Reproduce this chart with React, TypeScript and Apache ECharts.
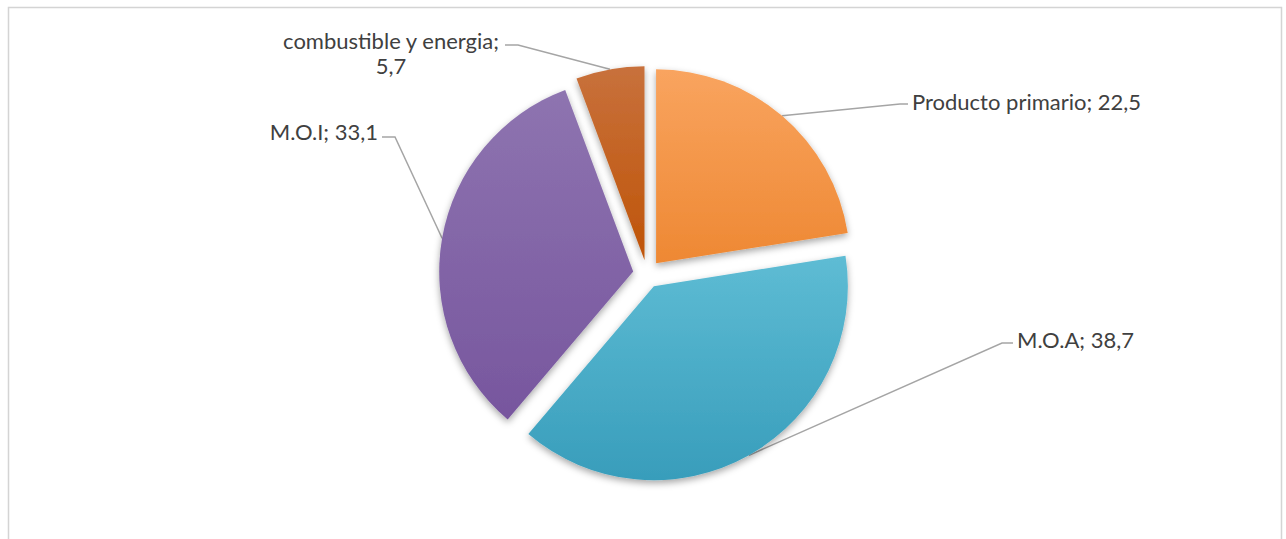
import React, { useEffect, useRef } from "react";
import * as echarts from "echarts";

const categories = ["Producto primario", "M.O.A", "M.O.I", "combustible y energia"];
const values = [22.5, 38.7, 33.1, 5.7];
const topColors = ["#f9a45f", "#5ebcd4", "#8e74b0", "#c8713c"];
const bottomColors = ["#ee8833", "#389dbb", "#77569e", "#bf5408"];

const fmt = (v: number) => String(v).replace(".", ",");

export default function App() {
  const ref = useRef<HTMLDivElement>(null);
  useEffect(() => {
    if (!ref.current) return;
    const chart = echarts.init(ref.current, undefined, { renderer: "svg" });
    const cx = 647;
    const cy = 274;
    const radius = 194;
    const explode = 14;
    const total = values.reduce((a, b) => a + b, 0);
    let acc = 0;
    const mids = values.map((v) => {
      const m = ((acc + v / 2) / total) * Math.PI * 2;
      acc += v;
      return m;
    });

    const labelPlace = [
      { x: 912, y: 101, align: "left", bend: [[900, 104], [908, 104]] },
      { x: 1017, y: 339, align: "left", bend: [[1002, 343], [1013, 343]] },
      { x: 378, y: 131, align: "right", bend: [[395, 137], [382, 137]] },
      { x: 391, y: 53, align: "center", bend: [[518, 45], [505, 45]] },
    ];

    const series = values.map((_, i) => ({
      type: "pie",
      radius: radius,
      center: [cx + explode * Math.sin(mids[i]), cy - explode * Math.cos(mids[i])],
      startAngle: 90,
      clockwise: true,
      silent: true,
      avoidLabelOverlap: false,
      label: { show: false },
      labelLine: { show: false },
      labelLayout: (p: any) => {
        const lp = labelPlace[i];
        const start = p.labelLinePoints ? p.labelLinePoints[0] : [lp.bend[0][0], lp.bend[0][1]];
        return {
          x: lp.x,
          y: lp.y,
          align: lp.align,
          verticalAlign: "middle",
          labelLinePoints: [start, lp.bend[0], lp.bend[1]],
        };
      },
      data: categories.map((name, j) => ({
        name,
        value: values[j],
        itemStyle:
          j === i
            ? {
                color: {
                  type: "linear",
                  x: 0,
                  y: 0,
                  x2: 0,
                  y2: 1,
                  colorStops: [
                    { offset: 0, color: topColors[j] },
                    { offset: 1, color: bottomColors[j] },
                  ],
                },
                shadowBlur: 7,
                shadowColor: "rgba(0,0,0,0.35)",
                shadowOffsetX: 0,
                shadowOffsetY: 3,
              }
            : { color: "rgba(0,0,0,0)", opacity: 0 },
        label:
          j === i
            ? {
                show: true,
                position: "outside",
                formatter: () =>
                  name.length > 18 ? `${name};\n${fmt(values[j])}` : `${name}; ${fmt(values[j])}`,
                color: "#404040",
                fontFamily: "Lato",
                fontSize: 22,
                lineHeight: 25,
                align: labelPlace[j].align,
              }
            : { show: false },
        labelLine:
          j === i
            ? { show: true, length: 20, length2: 10, lineStyle: { color: "#a5a5a5", width: 1.5 } }
            : { show: false },
      })),
    }));

    chart.setOption({
      animation: false,
      backgroundColor: "#ffffff",
      graphic: [
        {
          type: "rect",
          shape: { x: 8.5, y: 7.5, width: 1273, height: 545 },
          style: { fill: "none", stroke: "#d4d4d4", lineWidth: 1.5 },
          silent: true,
        },
      ],
      series,
    });
    return () => chart.dispose();
  }, []);
  return (
    <div
      ref={ref}
      style={{ position: "absolute", left: 0, top: 0, width: 1286, height: 539 }}
    />
  );
}
